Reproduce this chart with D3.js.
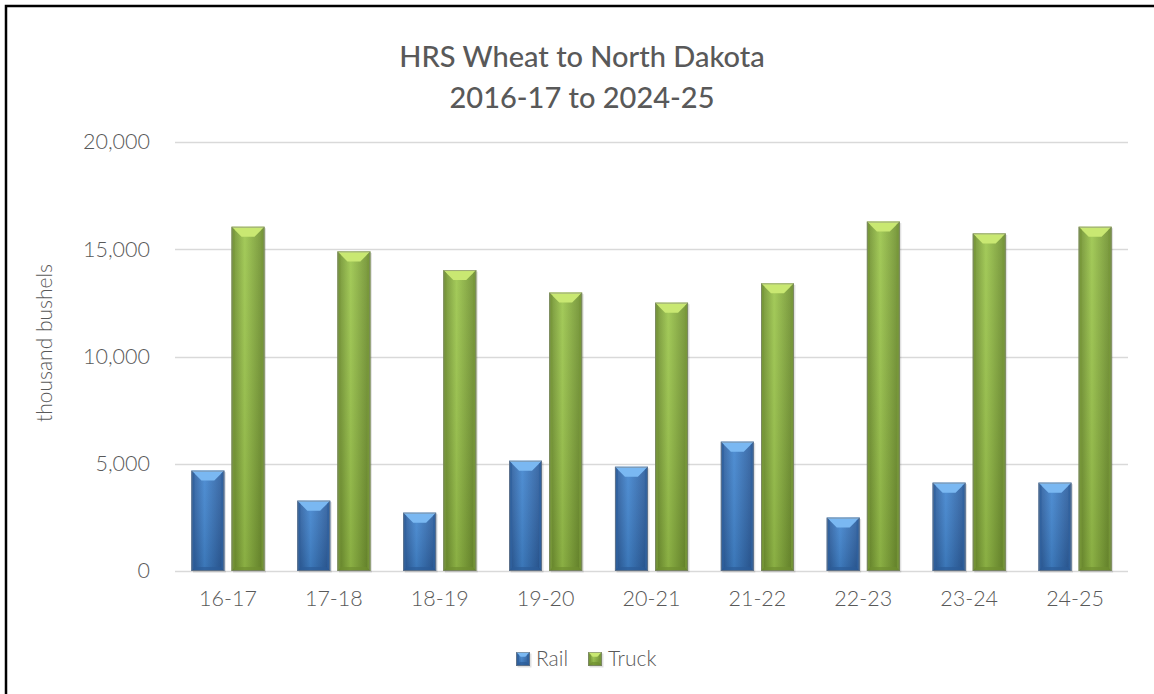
<!DOCTYPE html>
<html>
<head>
<meta charset="utf-8">
<script src="https://cdn.jsdelivr.net/npm/d3@7"></script>
<style>
  html, body { margin: 0; padding: 0; background: #fff; }
  svg { display: block; }
  text { font-family: Lato, "Noto Sans", sans-serif; fill: #595959; }
</style>
</head>
<body>
<div class="chart"></div>
<script>
const w = 1154;
const h = 694;

// data (thousand bushels)
const seasons = ["16-17", "17-18", "18-19", "19-20", "20-21", "21-22", "22-23", "23-24", "24-25"];
const rail = [4680, 3280, 2720, 5140, 4860, 6030, 2490, 4120, 4120];
const truck = [16050, 14900, 14030, 12980, 12510, 13410, 16290, 15740, 16050];
const seriesNames = ["Rail", "Truck"];
const yTicks = [0, 5000, 10000, 15000, 20000];
const titleLines = ["HRS Wheat to North Dakota", "2016-17 to 2024-25"];

const margin = {top: 142, right: 26, bottom: 123, left: 175};

let svg = d3.select(".chart")
    .append("svg")
    .attr("width", w)
    .attr("height", h);

// outer frame (only left and top edges fall inside the picture)
svg.append("path")
    .attr("d", "M6,700 L6,6 L1160,6")
    .attr("fill", "none")
    .attr("stroke", "#000")
    .attr("stroke-width", 2.5);

let x0 = d3.scaleBand()
    .domain(seasons)
    .range([margin.left, w - margin.right])
    .paddingInner(0.31)
    .paddingOuter(0.155);

let x1 = d3.scaleBand()
    .domain(seriesNames)
    .range([0, x0.bandwidth()])
    .paddingInner(0.18);

let y = d3.scaleLinear()
    .domain([0, 20000])
    .range([h - margin.bottom, margin.top]);

// gradients for the bevelled bars
const defs = svg.append("defs");
const palette = {
    Rail:  {edge: "#2a5896", mid: "#4286d0", top: "#7ab8f2", side: "#2f619f", bottom: "#2c5c98"},
    Truck: {edge: "#6a8a2c", mid: "#9cc64c", top: "#c9e872", side: "#78993a", bottom: "#6f8f30"}
};
seriesNames.forEach(s => {
    let g = defs.append("linearGradient").attr("id", "grad-" + s)
        .attr("x1", "0").attr("x2", "1").attr("y1", "0").attr("y2", "0");
    g.append("stop").attr("offset", "0%").attr("stop-color", palette[s].edge);
    g.append("stop").attr("offset", "40%").attr("stop-color", palette[s].mid);
    g.append("stop").attr("offset", "100%").attr("stop-color", palette[s].edge);
    let v = defs.append("linearGradient").attr("id", "shade-" + s)
        .attr("x1", "0").attr("x2", "0").attr("y1", "0").attr("y2", "1");
    v.append("stop").attr("offset", "0%").attr("stop-color", "#fff").attr("stop-opacity", 0.08);
    v.append("stop").attr("offset", "100%").attr("stop-color", "#000").attr("stop-opacity", 0.12);
});

// gridlines
svg.append("g")
    .selectAll("line")
    .data(yTicks)
    .enter()
    .append("line")
    .attr("x1", margin.left)
    .attr("x2", w - margin.right)
    .attr("y1", d => Math.round(y(d)) + 0.5)
    .attr("y2", d => Math.round(y(d)) + 0.5)
    .attr("stroke", "#d9d9d9")
    .attr("stroke-width", 1.5);

// y axis labels
svg.append("g")
    .attr("transform", "translate(" + (margin.left - 25) + ",0)")
    .call(d3.axisLeft(y).tickValues(yTicks).tickSize(0).tickPadding(0).tickFormat(d3.format(",")))
    .call(g => g.select(".domain").remove())
    .selectAll("text")
    .attr("font-size", 21.5)
    .attr("font-weight", 300)
    .attr("fill", "#595959")
    .attr("font-family", "Lato, sans-serif");

// x axis labels
svg.append("g")
    .attr("transform", "translate(0," + (h - margin.bottom + 20) + ")")
    .call(d3.axisBottom(x0).tickSize(0).tickPadding(0))
    .call(g => g.select(".domain").remove())
    .selectAll("text")
    .attr("font-size", 21.5)
    .attr("font-weight", 300)
    .attr("fill", "#595959")
    .attr("font-family", "Lato, sans-serif");

const rows = seasons.map((s, i) => ({season: s, Rail: rail[i], Truck: truck[i]}));

function bevelBar(g, s, bx, by, bw, bh) {
    const b = Math.min(10, bw / 3, bh / 2);
    const p = palette[s];
    g.append("rect")
        .attr("x", bx + 1.5).attr("y", by + 1.5)
        .attr("width", bw).attr("height", bh)
        .attr("fill", "#000").attr("opacity", 0.12);
    g.append("rect")
        .attr("x", bx).attr("y", by)
        .attr("width", bw).attr("height", bh)
        .attr("fill", "url(#grad-" + s + ")");
    g.append("rect")
        .attr("x", bx).attr("y", by)
        .attr("width", bw).attr("height", bh)
        .attr("fill", "url(#shade-" + s + ")");
    // top facet
    g.append("polygon")
        .attr("points", [[bx, by], [bx + bw, by], [bx + bw - b, by + b], [bx + b, by + b]].join(" "))
        .attr("fill", p.top);
    // side facets
    g.append("polygon")
        .attr("points", [[bx, by], [bx + 3, by + 3], [bx + 3, by + bh - 3], [bx, by + bh]].join(" "))
        .attr("fill", p.side).attr("opacity", 0.8);
    g.append("polygon")
        .attr("points", [[bx + bw, by], [bx + bw - 3, by + 3], [bx + bw - 3, by + bh - 3], [bx + bw, by + bh]].join(" "))
        .attr("fill", p.side).attr("opacity", 0.8);
    // bottom facet
    g.append("polygon")
        .attr("points", [[bx, by + bh], [bx + bw, by + bh], [bx + bw - 4, by + bh - 4], [bx + 4, by + bh - 4]].join(" "))
        .attr("fill", p.bottom).attr("opacity", 0.7);
    g.append("rect")
        .attr("x", bx + 0.5).attr("y", by + 0.5)
        .attr("width", bw - 1).attr("height", bh - 1)
        .attr("fill", "none").attr("stroke", "#7f7f7f").attr("stroke-opacity", 0.6).attr("stroke-width", 1);
}

let groups = svg.append("g")
    .selectAll("g")
    .data(rows)
    .enter()
    .append("g")
    .attr("transform", d => "translate(" + x0(d.season) + ",0)");

groups.each(function(d) {
    let g = d3.select(this);
    seriesNames.forEach(s => {
        bevelBar(g, s, x1(s), y(d[s]), x1.bandwidth(), y(0) - y(d[s]));
    });
});

// title
svg.append("g")
    .selectAll("text")
    .data(titleLines)
    .enter()
    .append("text")
    .attr("x", 582)
    .attr("y", (d, i) => 67 + i * 41)
    .attr("text-anchor", "middle")
    .attr("font-size", 29)
    .attr("font-weight", 500)
    .attr("fill", "#595959")
    .text(d => d);

// y axis title
svg.append("text")
    .attr("transform", "translate(52,343) rotate(-90)")
    .attr("text-anchor", "middle")
    .attr("font-size", 21)
    .attr("font-weight", 300)
    .text("thousand bushels");

// legend
let legend = svg.append("g")
    .selectAll("g")
    .data(seriesNames)
    .enter()
    .append("g")
    .attr("transform", (d, i) => "translate(" + (516 + i * 72) + ",652)");

legend.each(function(s) {
    let g = d3.select(this);
    bevelBar(g, s, 0, 0, 14, 14);
});

legend.append("text")
    .attr("x", 20)
    .attr("y", 14)
    .attr("font-size", 21)
    .attr("font-weight", 300)
    .text(d => d);
</script>
</body>
</html>
